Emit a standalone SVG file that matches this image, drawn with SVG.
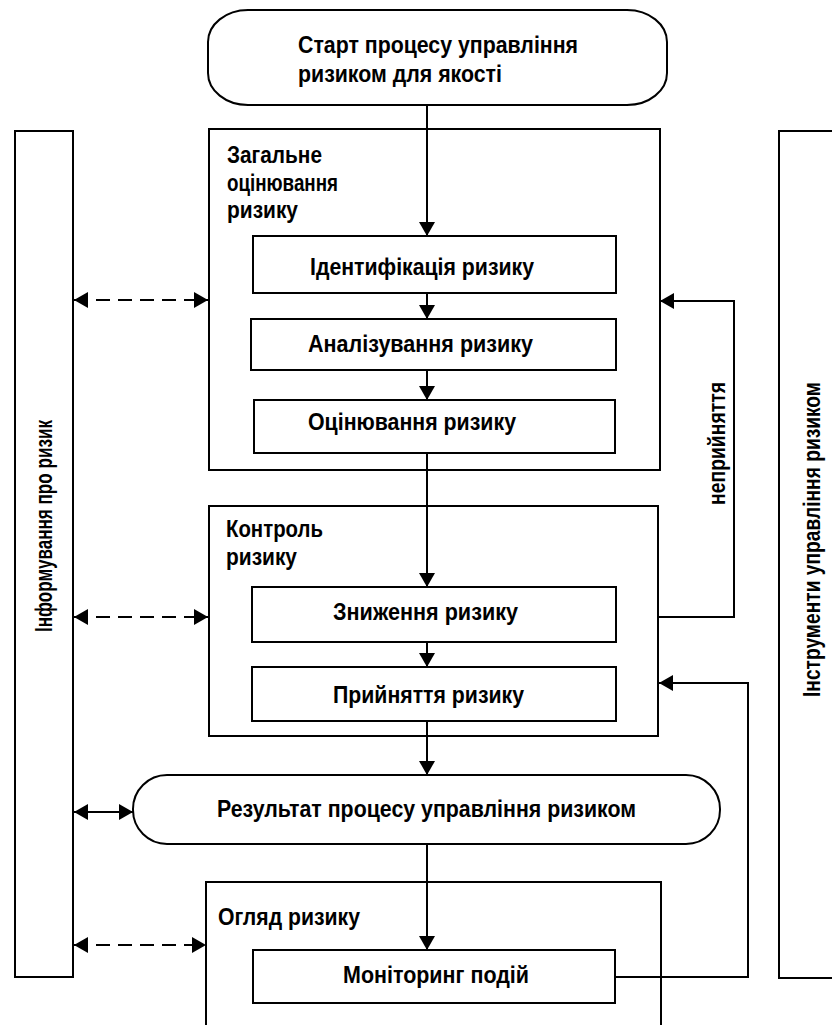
<svg xmlns="http://www.w3.org/2000/svg" width="832" height="1025" viewBox="0 0 832 1025">
<style>
.box{fill:#fff;stroke:#000;stroke-width:2}
.ln{fill:none;stroke:#000;stroke-width:2}
.dash{stroke-dasharray:14 8}
text{font-family:"Liberation Sans Narrow","Arial Narrow","Liberation Sans",Arial,sans-serif;font-weight:bold;font-size:24.5px;fill:#000}
</style>
<defs>
<marker id="ah" viewBox="0 0 14 16" refX="14" refY="8" markerWidth="14" markerHeight="16" orient="auto-start-reverse" markerUnits="userSpaceOnUse">
<path d="M0,0 L14,8 L0,16 z" fill="#000"/>
</marker>
</defs>
<rect width="832" height="1025" fill="#fff"/>

<g id="panel-left">
<rect class="box" x="15" y="131" width="58" height="846"/>
<text transform="translate(52,632) rotate(-90)" textLength="212" lengthAdjust="spacingAndGlyphs">Інформування про ризик</text>
</g>
<g id="panel-right">
<rect class="box" x="779" y="131" width="80" height="847"/>
<text transform="translate(820,697) rotate(-90)" textLength="315" lengthAdjust="spacingAndGlyphs">Інструменти управління ризиком</text>
</g>

<g id="start">
<rect class="box" x="208" y="10" width="459" height="95" rx="40" ry="32"/>
<text x="298" y="53" textLength="280" lengthAdjust="spacingAndGlyphs">Старт процесу управління</text>
<text x="298" y="82" textLength="204" lengthAdjust="spacingAndGlyphs">ризиком для якості</text>
</g>

<g id="assessment">
<rect class="box" x="209" y="129" width="451" height="341"/>
<text x="227" y="163" textLength="95" lengthAdjust="spacingAndGlyphs">Загальне</text>
<text x="227" y="191" textLength="111" lengthAdjust="spacingAndGlyphs">оцінювання</text>
<text x="227" y="218" textLength="71" lengthAdjust="spacingAndGlyphs">ризику</text>
</g>
<g id="identification">
<rect class="box" x="253" y="236" width="363" height="57"/>
<text x="310" y="275" textLength="224" lengthAdjust="spacingAndGlyphs">Ідентифікація ризику</text>
</g>
<g id="analysis">
<rect class="box" x="251" y="319" width="365" height="51"/>
<text x="308" y="352" textLength="225" lengthAdjust="spacingAndGlyphs">Аналізування ризику</text>
</g>
<g id="evaluation">
<rect class="box" x="254" y="400" width="361" height="53"/>
<text x="308" y="430" textLength="208" lengthAdjust="spacingAndGlyphs">Оцінювання ризику</text>
</g>

<g id="control">
<rect class="box" x="209" y="506" width="449" height="230"/>
<text x="226" y="537" textLength="97" lengthAdjust="spacingAndGlyphs">Контроль</text>
<text x="226" y="565" textLength="71" lengthAdjust="spacingAndGlyphs">ризику</text>
</g>
<g id="reduction">
<rect class="box" x="252" y="587" width="364" height="55"/>
<text x="333" y="620" textLength="185" lengthAdjust="spacingAndGlyphs">Зниження ризику</text>
</g>
<g id="acceptance">
<rect class="box" x="252" y="667" width="364" height="54"/>
<text x="333" y="703" textLength="191" lengthAdjust="spacingAndGlyphs">Прийняття ризику</text>
</g>

<g id="result">
<rect class="box" x="133" y="775" width="587" height="69" rx="34" ry="34"/>
<text x="217" y="817" textLength="419" lengthAdjust="spacingAndGlyphs">Результат процесу управління ризиком</text>
</g>

<g id="review">
<path class="box" d="M206,1030 V882 H661 V1030"/>
<text x="218" y="925" textLength="142" lengthAdjust="spacingAndGlyphs">Огляд ризику</text>
</g>
<g id="monitoring">
<rect class="box" x="253" y="950" width="362" height="53"/>
<text x="343" y="983" textLength="186" lengthAdjust="spacingAndGlyphs">Моніторинг подій</text>
</g>

<g id="connectors">
<path class="ln" d="M427,105 V236" marker-end="url(#ah)"/>
<path class="ln" d="M427,293 V319" marker-end="url(#ah)"/>
<path class="ln" d="M427,370 V400" marker-end="url(#ah)"/>
<path class="ln" d="M427,453 V587" marker-end="url(#ah)"/>
<path class="ln" d="M427,642 V667" marker-end="url(#ah)"/>
<path class="ln" d="M427,721 V775" marker-end="url(#ah)"/>
<path class="ln" d="M427,844 V950" marker-end="url(#ah)"/>
<path class="ln" d="M658,617 H734 V301 H660" marker-end="url(#ah)"/>
<path class="ln" d="M615,977 H748 V683 H659" marker-end="url(#ah)"/>
<path class="ln dash" d="M74,300 H208" marker-start="url(#ah)" marker-end="url(#ah)"/>
<path class="ln dash" d="M74,617 H208" marker-start="url(#ah)" marker-end="url(#ah)"/>
<path class="ln" d="M74,812 H133" marker-start="url(#ah)" marker-end="url(#ah)"/>
<path class="ln dash" d="M74,945 H206" marker-start="url(#ah)" marker-end="url(#ah)"/>
<text transform="translate(725,505) rotate(-90)" textLength="123" lengthAdjust="spacingAndGlyphs">неприйняття</text>
</g>
</svg>
